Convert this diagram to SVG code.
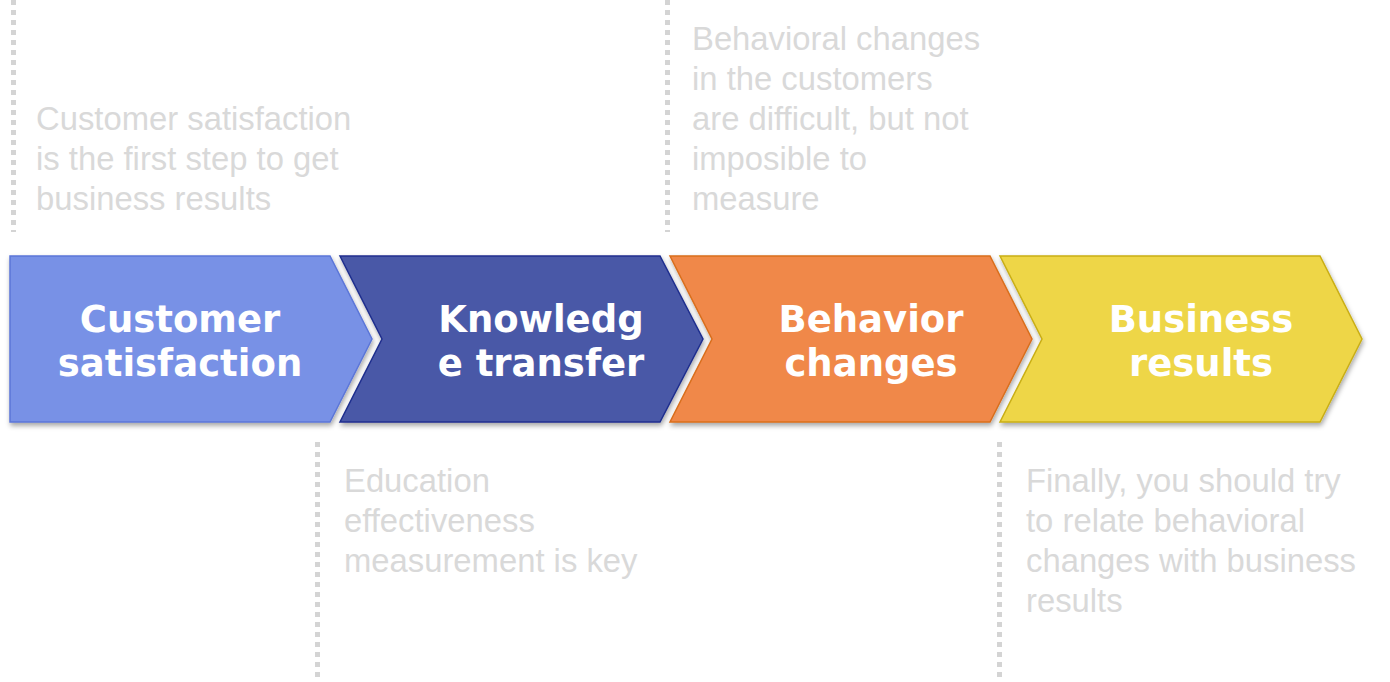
<svg xmlns="http://www.w3.org/2000/svg" width="1390" height="682" viewBox="0 0 1390 682">
  <defs>
    <filter id="shadow" x="-5%" y="-10%" width="115%" height="130%">
      <feDropShadow dx="1" dy="3" stdDeviation="2.5" flood-color="#000" flood-opacity="0.35"/>
    </filter>
    <style>
      .step { stroke-width: 1.5; stroke-linejoin: miter; filter: url(#shadow); }
      .s1 { fill: #7891E6; stroke: #5B76D8; }
      .s2 { fill: #4A58A7; stroke: #1F2F8E; }
      .s3 { fill: #F08848; stroke: #D96E1C; }
      .s4 { fill: #EED646; stroke: #C9AE14; }
      .label { font-family: "DejaVu Sans", Verdana, sans-serif; font-weight: bold; font-size: 37px; fill: #FFFFFF; text-anchor: middle; }
      .note { font-family: "Liberation Sans", Arial, sans-serif; font-size: 32.8px; fill: #D9D9D9; }
      .guide { stroke: #D4D4D4; stroke-width: 5; stroke-dasharray: 5 5; fill: none; }
    </style>
  </defs>
  <rect width="1390" height="682" fill="#FFFFFF"/>

  <!-- dotted guide lines -->
  <g id="connectors">
    <line class="guide" x1="13.5" y1="0" x2="13.5" y2="232"/>
    <line class="guide" x1="667.5" y1="0" x2="667.5" y2="232"/>
    <line class="guide" x1="317.5" y1="442" x2="317.5" y2="682"/>
    <line class="guide" x1="999.5" y1="442" x2="999.5" y2="682"/>
  </g>

  <!-- process chevrons -->
  <g id="step-customer-satisfaction">
    <polygon class="step s1" points="10,256 330,256 372,339 330,422 10,422"/>
    <text class="label" x="180" y="332">Customer</text>
    <text class="label" x="180" y="376">satisfaction</text>
  </g>
  <g id="step-knowledge-transfer">
    <polygon class="step s2" points="340,256 660,256 703,339 660,422 340,422 382,339"/>
    <text class="label" x="541" y="332">Knowledg</text>
    <text class="label" x="541" y="376">e transfer</text>
  </g>
  <g id="step-behavior-changes">
    <polygon class="step s3" points="670,256 990,256 1032,339 990,422 670,422 712,339"/>
    <text class="label" x="871" y="332">Behavior</text>
    <text class="label" x="871" y="376">changes</text>
  </g>
  <g id="step-business-results">
    <polygon class="step s4" points="1000,256 1320,256 1362,339 1320,422 1000,422 1042,339"/>
    <text class="label" x="1201" y="332">Business</text>
    <text class="label" x="1201" y="376">results</text>
  </g>

  <!-- annotations -->
  <g id="note-satisfaction">
    <text class="note" x="36" y="130">Customer satisfaction</text>
    <text class="note" x="36" y="170">is the first step to get</text>
    <text class="note" x="36" y="210">business results</text>
  </g>
  <g id="note-behavior">
    <text class="note" x="692" y="50">Behavioral changes</text>
    <text class="note" x="692" y="90">in the customers</text>
    <text class="note" x="692" y="130">are difficult, but not</text>
    <text class="note" x="692" y="170">imposible to</text>
    <text class="note" x="692" y="210">measure</text>
  </g>
  <g id="note-education">
    <text class="note" x="344" y="492">Education</text>
    <text class="note" x="344" y="532">effectiveness</text>
    <text class="note" x="344" y="572">measurement is key</text>
  </g>
  <g id="note-business">
    <text class="note" x="1026" y="492">Finally, you should try</text>
    <text class="note" x="1026" y="532">to relate behavioral</text>
    <text class="note" x="1026" y="572">changes with business</text>
    <text class="note" x="1026" y="612">results</text>
  </g>
</svg>
